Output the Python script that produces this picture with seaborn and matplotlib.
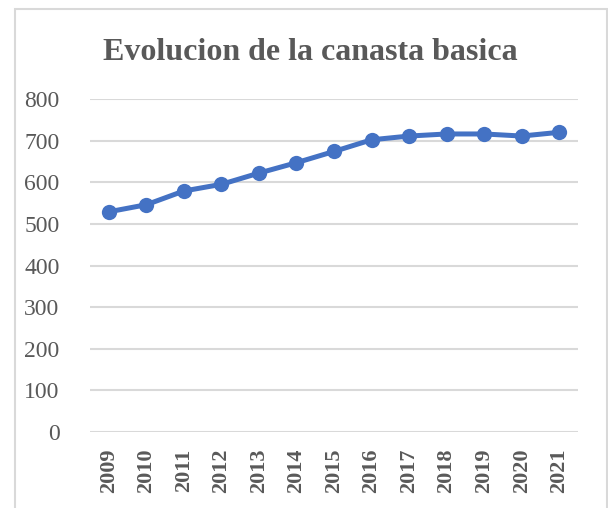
import matplotlib
matplotlib.use("Agg")
import matplotlib.pyplot as plt
import matplotlib.patches as patches
import seaborn as sns
import pandas as pd

years = [2009, 2010, 2011, 2012, 2013, 2014, 2015, 2016, 2017, 2018, 2019, 2020, 2021]
values = [529, 546, 579, 595, 622, 647, 674, 702, 711, 716, 716, 711, 720]
yticks = [0, 100, 200, 300, 400, 500, 600, 700, 800]
title = "Evolucion de la canasta basica"

df = pd.DataFrame({"year": years, "value": values})

sns.set_style("white")
plt.rcParams["font.family"] = ["Liberation Serif", "DejaVu Serif"]
gray = "#595959"

fig = plt.figure(figsize=(6.08, 5.08), dpi=100)
ax = fig.add_axes([90 / 608, 1 - 432 / 508, 488 / 608, 333 / 508])

sns.lineplot(data=df, x="year", y="value", ax=ax, color="#4472C4",
             linewidth=3.6, marker="o", markersize=11,
             markeredgecolor="#4472C4", markeredgewidth=0)

ax.set_xlim(years[0] - 0.5, years[-1] + 0.5)
ax.set_ylim(0, 800)
ax.set_yticks(yticks)
ax.set_xticks(years)
ax.set_xticklabels([str(y) for y in years], rotation=90, fontweight="bold",
                   fontsize=16, color=gray)
ax.set_yticklabels([str(v) for v in yticks], fontsize=17, color=gray)
ax.tick_params(axis="y", length=0, pad=22)
ax.tick_params(axis="x", length=0, pad=12)
ax.set_xlabel("")
ax.set_ylabel("")
ax.yaxis.grid(True, color="#D9D9D9", linewidth=1.5)
ax.set_axisbelow(True)
for s in ax.spines.values():
    s.set_visible(False)

fig.text(310.5 / 608, 1 - 60 / 508, title, ha="center", va="baseline",
         fontsize=23, fontweight="bold", color=gray)

# chart border
fig.patches.append(patches.Rectangle((15 / 608, -0.05), 592 / 608, 1.05 - 9 / 508,
                                     transform=fig.transFigure, fill=False,
                                     edgecolor="#D9D9D9", linewidth=1.5))

fig.savefig("out.png", dpi=100)
